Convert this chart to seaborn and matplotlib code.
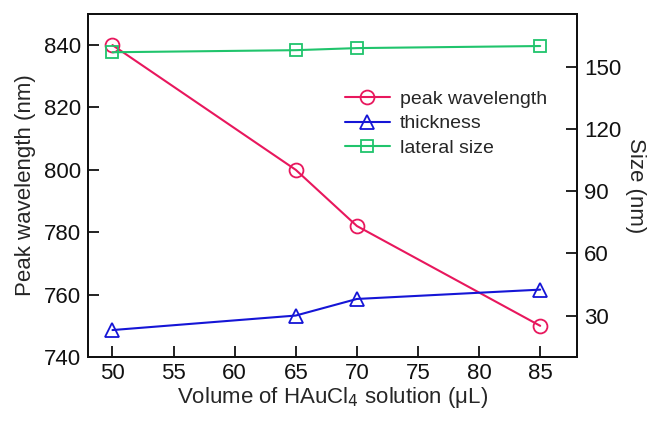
import matplotlib
matplotlib.use("Agg")
import matplotlib.pyplot as plt
import seaborn as sns
import pandas as pd

volume = [50, 65, 70, 85]
peak_wavelength = [840, 800, 782, 750]
thickness = [23, 30, 38, 42.5]
lateral_size = [157, 158, 159, 160]

x_ticks = [50, 55, 60, 65, 70, 75, 80, 85]
left_ticks = [740, 760, 780, 800, 820, 840]
right_ticks = [30, 60, 90, 120, 150]

sns.set_theme(style="white")
plt.rcParams['font.family'] = ['Liberation Sans', 'DejaVu Sans']

pink = "#e8175d"
blue = "#1515d6"
green = "#20c46c"

df = pd.DataFrame({"volume": volume, "peak": peak_wavelength,
                   "thick": thickness, "lateral": lateral_size})

fig = plt.figure(figsize=(6.57, 4.21), dpi=100)
ax = fig.add_axes([0.134, 0.152, 0.744, 0.815])
ax2 = ax.twinx()

sns.lineplot(data=df, x="volume", y="peak", ax=ax, color=pink, marker="o",
             markersize=10, markerfacecolor="none", markeredgecolor=pink,
             markeredgewidth=1.3, linewidth=1.5, label="peak wavelength", legend=False)
sns.lineplot(data=df, x="volume", y="thick", ax=ax2, color=blue, marker="^",
             markersize=10, markerfacecolor="none", markeredgecolor=blue,
             markeredgewidth=1.3, linewidth=1.5, label="thickness", legend=False)
sns.lineplot(data=df, x="volume", y="lateral", ax=ax2, color=green, marker="s",
             markersize=9, markerfacecolor="none", markeredgecolor=green,
             markeredgewidth=1.3, linewidth=1.5, label="lateral size", legend=False)

ax.set_xlim(48, 88)
ax.set_ylim(740, 850)
ax2.set_ylim(10, 175.5)
ax.set_xticks(x_ticks)
ax.set_yticks(left_ticks)
ax2.set_yticks(right_ticks)

fs = 16
ax.set_xlabel("Volume of HAuCl$_4$ solution (μL)", fontsize=fs, labelpad=1)
ax.set_ylabel("Peak wavelength (nm)", fontsize=fs, labelpad=6)
ax2.set_ylabel("Size (nm)", fontsize=fs, rotation=270, labelpad=18)

for a in (ax, ax2):
    a.tick_params(direction="in", length=8, width=1.3, labelsize=fs, pad=5,
                  colors="#111111")
    for s in a.spines.values():
        s.set_color("#111111")
        s.set_linewidth(1.4)
ax.tick_params(axis="y", left=True, right=False)
ax.tick_params(axis="x", bottom=True, top=False, pad=4)
ax2.tick_params(axis="y", right=True, left=False)

h1, l1 = ax.get_legend_handles_labels()
h2, l2 = ax2.get_legend_handles_labels()
ax2.legend(h1 + h2, l1 + l2, loc="upper left", bbox_to_anchor=(0.51, 0.8),
           frameon=False, fontsize=14, handlelength=2.3, handletextpad=0.5,
           labelspacing=0.35, borderaxespad=0)

fig.savefig("out.png", dpi=100)
